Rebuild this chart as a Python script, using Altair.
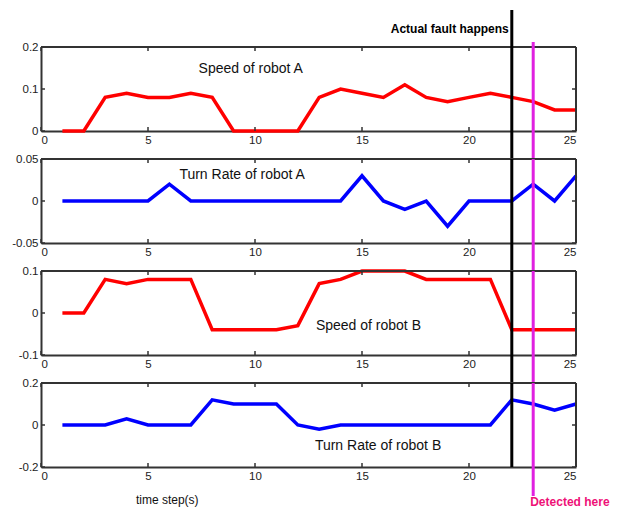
import altair as alt
import pandas as pd

# ---- data ----
t = list(range(1, 26))
speed_a = [0, 0, 0.08, 0.09, 0.08, 0.08, 0.09, 0.08, 0, 0, 0, 0, 0.08, 0.10, 0.09,
           0.08, 0.11, 0.08, 0.07, 0.08, 0.09, 0.08, 0.07, 0.05, 0.05]
turn_a = [0, 0, 0, 0, 0, 0.02, 0, 0, 0, 0, 0, 0, 0, 0, 0.03,
          0, -0.01, 0, -0.03, 0, 0, 0, 0.02, 0, 0.03]
speed_b = [0, 0, 0.08, 0.07, 0.08, 0.08, 0.08, -0.04, -0.04, -0.04, -0.04, -0.03, 0.07, 0.08, 0.10,
           0.10, 0.10, 0.08, 0.08, 0.08, 0.08, -0.04, -0.04, -0.04, -0.04]
turn_b = [0, 0, 0, 0.03, 0, 0, 0, 0.12, 0.10, 0.10, 0.10, 0, -0.02, 0, 0,
          0, 0, 0, 0, 0, 0, 0.12, 0.10, 0.07, 0.10]

x_ticks = [0, 5, 10, 15, 20, 25]
y_ticks_list = [[0, 0.1, 0.2], [-0.05, 0, 0.05], [-0.1, 0, 0.1], [-0.2, 0, 0.2]]
labels = ["Speed of robot A", "Turn Rate of robot A", "Speed of robot B", "Turn Rate of robot B"]
label_pos = [(9.8, 0.148), (9.4, 0.031), (15.3, -0.031), (15.75, -0.1)]
colors = ["#ff0000", "#0000ff", "#ff0000", "#0000ff"]
fault_t = 22
detect_t = 23

W, H, GAP = 535, 84, 28
FONT = "Liberation Sans"
MAGENTA = "#e020e0"
FRAME = "#333333"
FW = 2

df = pd.DataFrame({"t": t, "speed_a": speed_a, "turn_a": turn_a,
                   "speed_b": speed_b, "turn_b": turn_b})
fields = ["speed_a", "turn_a", "speed_b", "turn_b"]
xt_df = pd.DataFrame({"v": x_ticks})


def panel(i):
    yt = y_ticks_list[i]
    dom = [yt[0], yt[-1]]
    xs = alt.Scale(domain=[0, 25], nice=False)
    ys = alt.Scale(domain=dom, nice=False, zero=False)
    xax = alt.Axis(values=x_ticks, ticks=False, domain=True, domainColor=FRAME, domainWidth=FW,
                   grid=False, title=None,
                   labelPadding=3, labelFontSize=11.5, labelColor="#222", labelFont=FONT)
    yax = alt.Axis(values=yt, ticks=False, domain=True, domainColor=FRAME, domainWidth=FW,
                   grid=False, title=None,
                   labelPadding=3, labelFontSize=11.5, labelColor="#222", labelFont=FONT,
                   labelExpr="'' + datum.value")
    line = alt.Chart(df).mark_line(color=colors[i], strokeWidth=3.5, clip=False).encode(
        x=alt.X("t:Q", scale=xs, axis=xax),
        y=alt.Y(f"{fields[i]}:Q", scale=ys, axis=yax),
    )
    # top and right frame edges
    top = alt.Chart().mark_rule(color=FRAME, strokeWidth=FW).encode(
        x=alt.datum(0), x2=alt.datum(25), y=alt.value(0))
    right = alt.Chart().mark_rule(color=FRAME, strokeWidth=FW).encode(
        x=alt.datum(25), y=alt.value(0), y2=alt.value(H))
    yt_df = pd.DataFrame({"v": yt})
    xtick_b = alt.Chart(xt_df).mark_rule(color=FRAME, strokeWidth=1.5).encode(
        x=alt.X("v:Q", scale=xs), y=alt.value(H), y2=alt.value(H - 4))
    xtick_t = alt.Chart(xt_df).mark_rule(color=FRAME, strokeWidth=1.5).encode(
        x=alt.X("v:Q", scale=xs), y=alt.value(0), y2=alt.value(4))
    ytick_l = alt.Chart(yt_df).mark_rule(color=FRAME, strokeWidth=1.5).encode(
        y=alt.Y("v:Q", scale=ys), x=alt.value(0), x2=alt.value(4))
    ytick_r = alt.Chart(yt_df).mark_rule(color=FRAME, strokeWidth=1.5).encode(
        y=alt.Y("v:Q", scale=ys), x=alt.value(W), x2=alt.value(W - 4))
    lx, ly = label_pos[i]
    lab = alt.Chart().mark_text(font=FONT, fontSize=14, color="#111").encode(
        x=alt.datum(lx), y=alt.datum(ly), text=alt.value(labels[i]))

    # vertical event lines spanning across panels
    b_top = -37 if i == 0 else 0
    b_bot = H if i == 3 else H + GAP
    m_top = -5 if i == 0 else 0
    m_bot = H + 29 if i == 3 else H + GAP
    black = alt.Chart().mark_rule(color="#000", strokeWidth=3).encode(
        x=alt.datum(fault_t), y=alt.value(b_top), y2=alt.value(b_bot))
    mag = alt.Chart().mark_rule(color=MAGENTA, strokeWidth=3).encode(
        x=alt.datum(detect_t), y=alt.value(m_top), y2=alt.value(m_bot))

    layers = [line, top, right, xtick_b, xtick_t, ytick_l, ytick_r, lab, black, mag]
    if i == 0:
        layers.append(alt.Chart().mark_text(font=FONT, fontSize=12, fontWeight="bold",
                                            color="#000", align="right", dx=-3).encode(
            x=alt.datum(fault_t), y=alt.value(-18), text=alt.value("Actual fault happens")))
    if i == 3:
        layers.append(alt.Chart().mark_text(font=FONT, fontSize=12, color="#111").encode(
            x=alt.datum(5.9), y=alt.value(H + 33), text=alt.value("time step(s)")))
        layers.append(alt.Chart().mark_text(font=FONT, fontSize=12, fontWeight="bold",
                                            color="#ee1177", align="left", dx=-3).encode(
            x=alt.datum(detect_t), y=alt.value(H + 35), text=alt.value("Detected here")))
    return alt.layer(*layers).properties(width=W, height=H)


chart = alt.vconcat(*[panel(i) for i in range(4)], spacing=GAP, bounds="flush").properties(
    padding={"left": 3, "top": 0, "right": 0, "bottom": 0}
).configure_view(stroke=None).configure(background="white")

chart.save("out.html", embed_options={"renderer": "svg", "actions": False})
